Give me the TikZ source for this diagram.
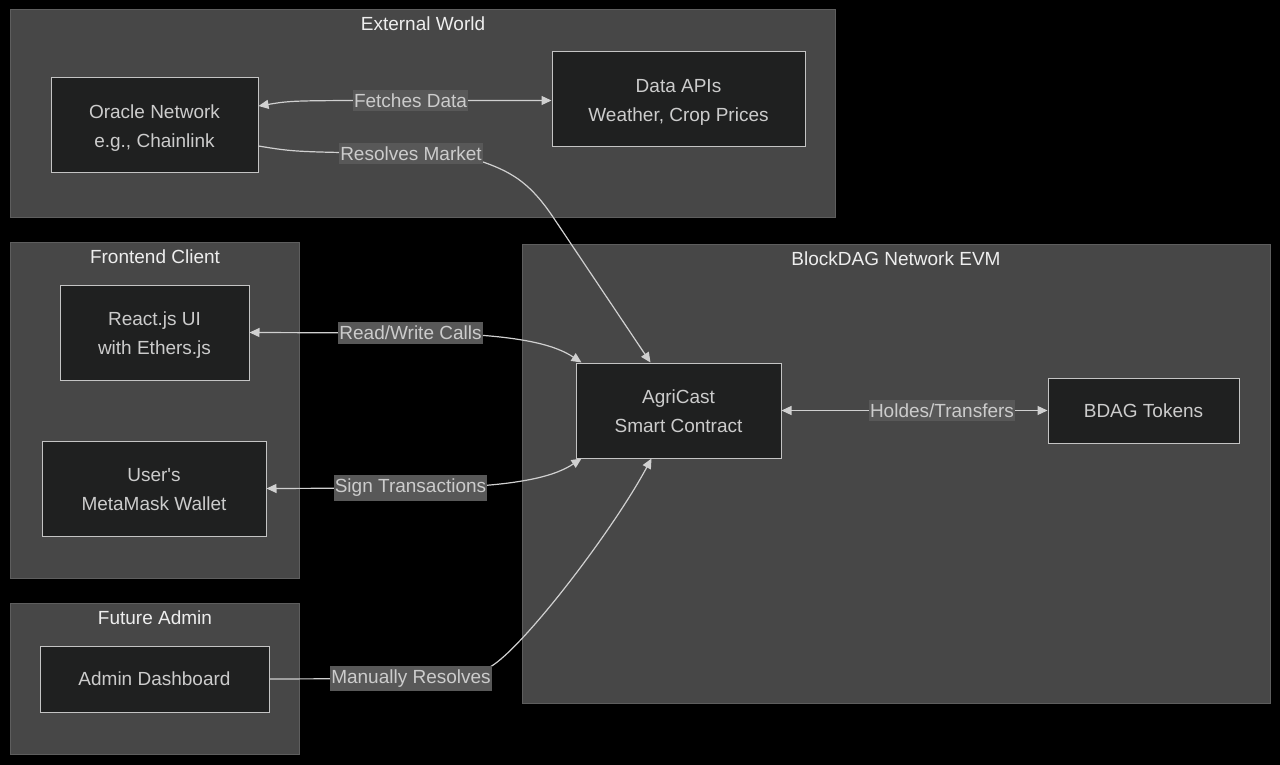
\documentclass[tikz,border=0pt]{standalone}
\usepackage{fontspec}
\setmainfont{Liberation Sans}
\usetikzlibrary{arrows.meta,calc}
\definecolor{bgc}{HTML}{000000}
\definecolor{clfill}{HTML}{474747}
\definecolor{cldraw}{HTML}{5E5E5E}
\definecolor{ndfill}{HTML}{1F2020}
\definecolor{nddraw}{HTML}{C4C4C4}
\definecolor{txt}{HTML}{CCCCCC}
\definecolor{ttl}{HTML}{EEEEEE}
\definecolor{lbfill}{HTML}{585858}
\definecolor{edge}{HTML}{D0D0D0}
\tikzset{
  cluster/.style={draw=cldraw, fill=clfill, line width=1pt},
  ctitle/.style={text=ttl, font=\fontsize{19}{23}\selectfont, inner sep=0pt, anchor=center},
  nodebox/.style={draw=nddraw, fill=ndfill, line width=1pt, text=txt,
    font=\fontsize{19}{29}\selectfont, align=center, inner sep=0pt, anchor=center},
  twoline/.style={text height=47pt, text depth=3.4pt},
  elabel/.style={fill=lbfill, text=txt, font=\fontsize{19}{23}\selectfont,
    inner xsep=1pt, inner ysep=4pt, anchor=center},
  conn/.style={draw=edge, line width=1.2pt},
  tip/.style={-{Triangle[length=10pt,width=9pt]}},
  both/.style={{Triangle[length=10pt,width=9pt]}-{Triangle[length=10pt,width=9pt]}},
}
\begin{document}
\begin{tikzpicture}[x=1pt,y=-1pt]
\useasboundingbox (0,0) rectangle (1280,765);
\fill[bgc] (0,0) rectangle (1280,765);

% clusters
\draw[cluster] (10,10) rectangle (835,217);
\node[ctitle] (tExt) at (423,23.5) {External World};
\draw[cluster] (10,242) rectangle (299,578);
\node[ctitle] (tFront) at (155,256.5) {Frontend Client};
\draw[cluster] (10,603) rectangle (299,754);
\node[ctitle] (tAdm) at (155,617.5) {Future Admin};
\draw[cluster] (522,244) rectangle (1270,703);
\node[ctitle] (tBdag) at (896,258.5) {BlockDAG Network EVM};

% nodes
\node[nodebox, twoline, minimum width=207pt, minimum height=95pt] (oracle) at (154.5,125.5) {Oracle Network\\e.g., Chainlink};
\node[nodebox, twoline, minimum width=253pt, minimum height=95pt] (apis) at (678.5,99.5) {Data APIs\\Weather, Crop Prices};
\node[nodebox, twoline, minimum width=189pt, minimum height=95pt] (react) at (154.5,332.5) {React.js UI\\with Ethers.js};
\node[nodebox, twoline, minimum width=224pt, minimum height=95pt] (wallet) at (154,488.5) {User\textquotesingle s\\MetaMask Wallet};
\node[nodebox, minimum width=229pt, minimum height=66pt] (admin) at (154.5,679) {Admin Dashboard};
\node[nodebox, twoline, minimum width=205pt, minimum height=95pt] (agri) at (678.5,410.5) {AgriCast\\Smart Contract};
\node[nodebox, minimum width=191pt, minimum height=65pt] (bdag) at (1143.5,410.5) {BDAG Tokens};

% label anchor points
\coordinate (fdc) at (410.5,100.5);
\coordinate (rmc) at (411,153.5);
\coordinate (rwc) at (410.5,333);
\coordinate (stc) at (410.5,488);
\coordinate (mrc) at (411,678.5);
\coordinate (htc) at (942,410.5);

% connectors
\draw[conn, both] ($(oracle.east)+(0,-19.5)$) .. controls (292,100.5) .. (fdc) -- (apis.west |- fdc);
\draw[conn, tip] ($(oracle.east)+(0,20.5)$) .. controls (295,152) .. (rmc)
   .. controls (450,153.5) and (470,158) .. (483,162)
   .. controls (515,173) and (532,186) .. (553,217) -- ($(agri.north)+(-28,0)$);
\draw[conn, both] (react.east) -- (rwc) .. controls (525,333) and (558,347) .. ($(agri.north west)+(6,0)$);
\draw[conn, both] (wallet.east) -- (stc) .. controls (525,488) and (558,474) .. ($(agri.south west)+(6,0)$);
\draw[conn, tip] (admin.east) -- (mrc) .. controls (460,678.5) and (476,673) .. (490,667)
   .. controls (522,649) and (612,532) .. ($(agri.south)+(-27,0)$);
\draw[conn, both] (agri.east) -- (bdag.west);

% edge labels
\node[elabel] (fd) at (fdc) {Fetches Data};
\node[elabel] (rm) at (rmc) {Resolves Market};
\node[elabel] (rw) at (rwc) {Read/Write Calls};
\node[elabel] (st) at (stc) {Sign Transactions};
\node[elabel] (mr) at (mrc) {Manually Resolves};
\node[elabel] (ht) at (htc) {Holdes/Transfers};
\end{tikzpicture}
\end{document}
